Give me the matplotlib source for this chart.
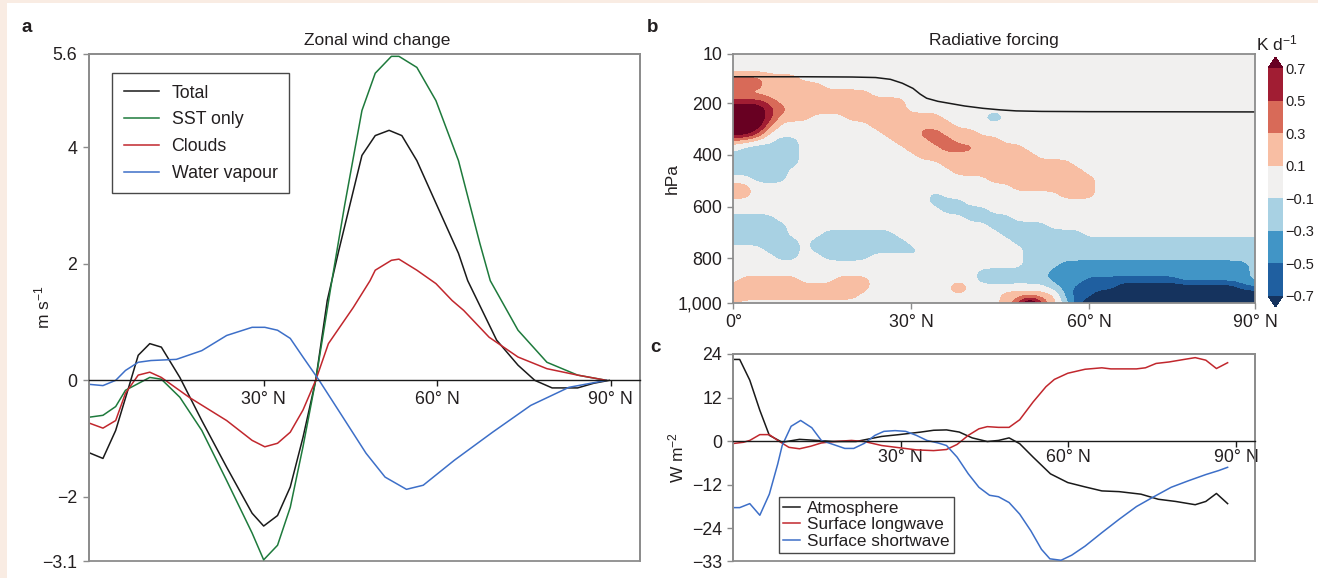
import numpy as np
import matplotlib
matplotlib.use("Agg")
import matplotlib.pyplot as plt
from matplotlib import font_manager
from matplotlib.colors import ListedColormap, BoundaryNorm
from matplotlib.patches import Rectangle

installed = {f.name for f in font_manager.fontManager.ttflist}
base_font = "Liberation Sans Narrow" if "Liberation Sans Narrow" in installed else "Liberation Sans"
plt.rcParams["font.family"] = [base_font, "DejaVu Sans"]
plt.rcParams["font.size"] = 12
plt.rcParams["mathtext.default"] = "regular"
plt.rcParams["text.color"] = "#231f20"
plt.rcParams["axes.labelcolor"] = "#231f20"

W, H = 1318, 578
MINUS = "\u2212"

# ---- panel a: zonal wind change (m s-1) ----
total_lat = [0, 2.2, 4.4, 6.5, 8.3, 10.3, 12.3, 15.5, 19.3, 23.6, 28, 30, 32.4, 34.6, 36.8, 39, 41, 43,
             47, 49.3, 51.7, 53.9, 56.5, 59.8, 63.7, 65.3, 70.3, 74, 76.9, 79.9, 84.3, 87.1, 89.8]
total_val = [-1.25, -1.34, -0.86, -0.17, 0.43, 0.63, 0.57, 0.05, -0.69, -1.49, -2.28, -2.5, -2.32, -1.83,
             -0.98, 0.0, 1.37, 2.23, 3.86, 4.2, 4.29, 4.2, 3.77, 3.04, 2.18, 1.71, 0.69, 0.26, 0.0, -0.13,
             -0.13, -0.05, 0.0]

sst_lat = [0, 2.2, 4.4, 6.1, 10.3, 12.3, 15.5, 19.3, 23.6, 28, 30, 32.4, 34.6, 36.8, 39, 41.8, 44, 47,
           49.3, 52.1, 53.4, 56.5, 59.8, 63.7, 67.4, 69.2, 74, 79, 84.3, 89.3]
sst_val = [-0.63, -0.6, -0.45, -0.17, 0.05, 0.02, -0.29, -0.86, -1.72, -2.62, -3.08, -2.83, -2.18, -1.14,
           0.0, 1.71, 3.0, 4.63, 5.27, 5.56, 5.56, 5.37, 4.8, 3.77, 2.35, 1.71, 0.86, 0.31, 0.09, 0.0]

cloud_lat = [0, 2.2, 4.4, 6.1, 8.3, 10.3, 12.3, 17.1, 23.6, 28, 30.2, 32.4, 34.6, 36.8, 39, 41.2, 45.5,
             48.4, 49.3, 52.1, 53.4, 56.5, 59.8, 62.6, 64.6, 69, 74, 79, 84.3, 89.3]
cloud_val = [-0.74, -0.82, -0.69, -0.22, 0.09, 0.14, 0.05, -0.29, -0.69, -1.03, -1.14, -1.08, -0.89,
             -0.51, 0.0, 0.63, 1.25, 1.71, 1.89, 2.06, 2.08, 1.89, 1.66, 1.37, 1.2, 0.74, 0.4, 0.2, 0.09, 0.0]

wv_lat = [0, 2.2, 4.4, 6.1, 8.3, 10.5, 14.9, 19.3, 23.6, 28, 30.2, 32.4, 34.6, 36.8, 39.6, 43.3, 47.7,
          51, 54.7, 57.6, 63, 69.6, 76.2, 82.8, 89.3]
wv_val = [-0.07, -0.09, 0.0, 0.17, 0.31, 0.34, 0.36, 0.51, 0.77, 0.91, 0.91, 0.86, 0.72, 0.4, 0.0, -0.57,
          -1.25, -1.66, -1.87, -1.8, -1.37, -0.89, -0.43, -0.12, 0.0]

# ---- panel b: radiative forcing (K d-1), lat x pressure ----
rf_lat = np.arange(0, 89, 2)
rf_p = [14, 44, 74, 104, 134, 164, 194, 224, 254, 284, 314, 344, 374, 404, 434, 464, 494,
        524, 554, 584, 614, 644, 674, 704, 734, 764, 794, 824, 854, 884, 914, 944, 974]
# one character per grid cell, read off the shaded classes
# (c / t mark isolated single-cell spots)
rf_code = {".": 0.0, "s": 0.2, "m": 0.4, "d": 0.6, "X": 0.95, "Y": 1.4, "t": 0.4,
           "b": -0.22, "c": -0.42, "B": -0.4, "n": -0.6, "N": -0.95}
rf_rows = [
    "..... ..... ..... ..... ..... ..... ..... ..... .....",
    "..... ..... ..... ..... ..... ..... ..... ..... .....",
    "..... ..... ..... ..... ..... ..... ..... ..... .....",
    "mmmss s.... ..... ..... ..... ..... ..... ..... .....",
    "mmmss sss.. ..... ..... ..... ..... ..... ..... .....",
    "sssss sssss ss... ..... ..... ..... ..... ..... .....",
    "dddms sssss sssss ..... ..... ..... ..... ..... .....",
    "XXXdm sssss sssss ..... ..... ..... ..... ..... .....",
    "XXXds ss... sssss sss.. ..c.. ..... ..... ..... .....",
    "XXXm. ..... ..sss ssss. ..... ..... ..... ..... .....",
    "XXd.. ..... ...ss smmss s.... ..... ..... ..... .....",
    "ss..b b.... ....s ssmms sss.. ..... ..... ..... .....",
    ".bbbb b.... ..... sssmm mssss ..... ..... ..... .....",
    "bbbbb b.... ..... .ssss sssss s.... ..... ..... .....",
    "bbbbb b.... ..... ...ss sssss ssss. ..... ..... .....",
    "bbbbb ..... ..... ....s sssss sssss ..... ..... .....",
    "..bbb ..... ..... ..... ..sss sssss s.... ..... .....",
    "ss... ..... ..... ..... ....s sssss s.... ..... .....",
    "ss... ..... ..... ..b.. ..... ...ss s.... ..... .....",
    "..... ..... ..... ..bbb ..... ..... ..... ..... .....",
    "..... ..... ..... ...bb bb... ..... ..... ..... .....",
    "bbbb. ..... ..... ..... bbbb. ..... ..... ..... .....",
    "bbbbb ..... ..... ..... ..bbb bb... ..... ..... .....",
    "bbbbb ...bb bbbb. ..... ...bb bbbbb ..... ..... .....",
    "bbbbb b.bbb bbbbb ..... ....b bbbbb bbbbb bbbbb bbbbb",
    "...bb b.bbb bbbbb b.... ..... bbbbb bbbbb bbbbb bbbbb",
    "....b b..bb bb... .b... ..... bbbbb bbbbb bbbbb bbbbb",
    "..... ..... ..... ..... ..... bbbBB BBBBB BBBBB BBBBb",
    "..... ..... ..... ..... .bbbb bbBBB BBBBB BBBBB BBBBb",
    ".ssss s...s ss... ..... .bbbb bbBBB nnnnn nnnBB BBBBb",
    "sssss sssss ss... ....t ..... ..bBn nnnNN NNNNN NNNnn",
    "mssss sssss s.... ..... ...ss sssBn nNNNN NNNNN NNNNN",
    "..... ..... ..... ..... ...sm Ymsbn NNNNN NNNNN NNNNN",
]
rf_levels = [-0.7, -0.5, -0.3, -0.1, 0.1, 0.3, 0.5, 0.7]
rf_colors = ["#1f5fa0", "#4195c6", "#a8d1e3", "#f1f0ef", "#f8bea3", "#d86a58", "#a11d33"]
rf_under, rf_over = "#15335e", "#680022"

tropo_lat = [0, 12, 20, 24, 26.5, 28.5, 30.3, 31.5, 32.6, 34.5, 36.5, 39, 42.1, 45, 47.7, 52, 60, 88]
tropo_p = [98, 98, 99, 101, 108, 123, 143, 165, 181, 193, 201, 211, 220, 226, 230, 232, 233, 234]

# ---- panel c: surface / atmosphere fluxes (W m-2) ----
atm_lat = [0.3, 1.2, 3, 4.8, 6.5, 8.8, 11.9, 15, 18.1, 22, 24.3, 26.6, 29.7, 33.6, 35.9, 38.2, 40.5,
           42.8, 45.5, 47.5, 49.4, 51.3, 53.7, 56.8, 59.9, 63, 66, 69.1, 73, 76.1, 79.2, 82.7, 84.6,
           86.5, 88.5]
atm_val = [22.5, 22.5, 16.8, 8.5, 1.6, -0.3, 0.5, 0.2, -0.1, -0.1, 0.6, 1.3, 1.8, 2.5, 3.0, 3.1, 2.5,
           0.9, -0.1, 0.2, 0.9, -0.7, -4.4, -9.0, -11.4, -12.6, -13.7, -13.9, -14.6, -16.0, -16.6,
           -17.5, -16.6, -14.4, -17.2]

lw_lat = [0.3, 1.9, 3, 4.8, 6.5, 8, 10, 11.9, 13.9, 15.8, 18.1, 21.2, 23.5, 26.6, 29.7, 32.8, 35.9,
          38.2, 40.1, 42.1, 44, 45.5, 47.5, 49.4, 51.3, 53.7, 56, 57.5, 59.9, 63, 66, 67.6, 72.2, 73.8,
          75.7, 78, 80.7, 82.7, 84.6, 86.5, 88.5]
lw_val = [-0.6, -0.3, 0.2, 1.8, 1.8, 0.2, -1.7, -2.1, -1.4, -0.5, -0.1, 0.2, -0.1, -1.2, -1.8, -2.4,
          -2.6, -2.3, -0.9, 1.6, 3.4, 4.0, 3.8, 3.8, 5.9, 10.8, 15.0, 17.0, 18.7, 19.8, 20.2, 19.9,
          19.9, 20.2, 21.4, 21.8, 22.5, 23.0, 22.3, 20.0, 21.6]

sw_lat = [0.3, 1.2, 3, 4.8, 6.5, 8, 8.8, 10.4, 12.1, 14.1, 15.8, 18.1, 20, 21.6, 23.5, 25.4, 27, 29,
          30.9, 32.8, 34.7, 36.7, 38.2, 40.1, 42.1, 44, 45.9, 47.5, 49.4, 51.3, 53.3, 55.2, 56.7, 58.7,
          60.6, 63, 66, 69.1, 72.2, 75.3, 78.4, 81.5, 84.6, 86.9, 88.5]
sw_val = [-18.3, -18.3, -17.2, -20.4, -14.6, -6.3, -1.2, 4.1, 5.7, 3.7, 0.2, -1.0, -2.0, -2.0, -0.6,
          1.6, 2.7, 2.9, 2.7, 1.6, 0.2, -0.5, -1.2, -4.4, -9.0, -12.7, -14.9, -15.3, -16.9, -20.1,
          -24.7, -29.8, -32.4, -32.8, -31.4, -28.9, -25.2, -21.5, -18.0, -15.3, -12.7, -10.9, -9.2,
          -8.1, -7.2]

FRAME = "#8c8c8c"
BLACK = "#1a1a1a"
GREEN = "#1e7a3c"
RED = "#c1272d"
BLUE = "#3d6fc8"
TICK_FS = 12.8


def frac(x0, y0, x1, y1):
    # pixel box (top-left origin) -> figure fraction rect
    return [x0 / W, 1 - y1 / H, (x1 - x0) / W, (y1 - y0) / H]


def style_frame(ax):
    for s in ax.spines.values():
        s.set_color(FRAME)
        s.set_linewidth(1.3)
    ax.tick_params(colors=FRAME, labelcolor="#231f20", length=4.5, width=1.0, labelsize=TICK_FS)


def smooth(a, sig, axis):
    # gaussian blur along one axis, edges held
    x = np.arange(-3 * sig, 3 * sig + 1)
    k = np.exp(-0.5 * (x / sig) ** 2)
    k /= k.sum()
    pad = len(x) // 2
    widths = [(pad, pad) if i == axis else (0, 0) for i in range(2)]
    ap = np.pad(a, widths, mode="edge")
    return np.apply_along_axis(lambda v: np.convolve(v, k, mode="valid"), axis, ap)


fig = plt.figure(figsize=(W / 100, H / 100), dpi=100)
fig.patch.set_facecolor("#f9ece3")
fig.add_artist(Rectangle((7 / W, 0), 1, 1 - 3 / H, transform=fig.transFigure,
                         facecolor="white", edgecolor="none", zorder=-10))

# ======== panel a ========
ax = fig.add_axes(frac(88.5, 54, 640, 561))
ax.plot(total_lat, total_val, color=BLACK, lw=1.1, label="Total")
ax.plot(sst_lat, sst_val, color=GREEN, lw=1.1, label="SST only")
ax.plot(cloud_lat, cloud_val, color=RED, lw=1.1, label="Clouds")
ax.plot(wv_lat, wv_val, color=BLUE, lw=1.1, label="Water vapour")
ax.set_xlim(-0.3, 95.1)
ax.set_ylim(-3.1, 5.6)
style_frame(ax)
ax.patch.set_edgecolor(FRAME)
ax.patch.set_linewidth(1.3)
ax.spines["bottom"].set_position(("data", 0))
ax.spines["bottom"].set_color(BLACK)
ax.spines["bottom"].set_linewidth(1.0)
ax.set_xticks([30, 60, 90])
ax.set_xticklabels(["30\u00b0 N", "60\u00b0 N", "90\u00b0 N"])
ax.tick_params(axis="x", colors=BLACK, labelcolor="#231f20", pad=3)
ax.set_yticks([-3.1, -2, 0, 2, 4, 5.6])
ax.set_yticklabels([MINUS + "3.1", MINUS + "2", "0", "2", "4", "5.6"])
ax.set_ylabel("m s$^{-1}$", fontsize=12.5, va="center")
ax.yaxis.set_label_coords(-0.084, 0.5)
ax.text(0.524, 1.0276, "Zonal wind change", transform=ax.transAxes, ha="center", va="center",
        fontsize=12.5)
leg = ax.legend(loc="upper left", bbox_to_anchor=(0.0426, 0.9625), borderaxespad=0, fontsize=12.8,
                frameon=True, fancybox=False, edgecolor=BLACK, handlelength=2.0, handletextpad=0.7,
                labelspacing=0.55, borderpad=0.65)
leg.get_frame().set_linewidth(1.0)

# ======== panel b ========
axb = fig.add_axes(frac(733.4, 54, 1255, 303.3))
Z = np.array([[rf_code[c] for c in row.replace(" ", "")] for row in rf_rows])
# render the read class grid on a finer mesh and soften the cell edges
fine_lat = np.arange(0, 88.01, 0.5)
fine_p = np.arange(14, 974.1, 7.5)
Zl = np.array([np.interp(fine_lat, rf_lat, row) for row in Z])
Zf = np.array([np.interp(fine_p, rf_p, col) for col in Zl.T]).T
Zf = smooth(smooth(Zf, 2, 0), 2, 1)

cmap = ListedColormap(rf_colors)
cmap.set_under(rf_under)
cmap.set_over(rf_over)
norm = BoundaryNorm(rf_levels, cmap.N)
axb.set_facecolor(rf_colors[3])
cs = axb.contourf(fine_lat, fine_p, Zf, levels=rf_levels, cmap=cmap, norm=norm, extend="both")
axb.plot(tropo_lat, tropo_p, color=BLACK, lw=1.1)
axb.set_xlim(0, 88)
axb.set_ylim(974, 10)
style_frame(axb)
axb.set_xticks([0, 30, 60, 88])
axb.set_xticklabels(["0\u00b0", "30\u00b0 N", "60\u00b0 N", "90\u00b0 N"])
axb.set_yticks([10, 200, 400, 600, 800, 974])
axb.set_yticklabels(["10", "200", "400", "600", "800", "1,000"])
axb.set_ylabel("hPa", fontsize=12.5, va="center")
axb.yaxis.set_label_coords(-0.118, 0.5)
axb.text(0.5, 1.056, "Radiative forcing", transform=axb.transAxes, ha="center", va="center",
         fontsize=12.5)

cax = fig.add_axes(frac(1268, 57, 1283, 307))
cb = fig.colorbar(cs, cax=cax, ticks=rf_levels)
cb.outline.set_visible(False)
cb.ax.set_yticklabels(["\u22120.7", "\u22120.5", "\u22120.3", "\u22120.1", "0.1", "0.3", "0.5", "0.7"])
cb.ax.tick_params(length=0, pad=1.5, labelsize=10.5, labelcolor="#231f20")
fig.text(1277 / W, 1 - 43 / H, "K d$^{-1}$", ha="center", va="center", fontsize=12.5)

# ======== panel c ========
axc = fig.add_axes(frac(733, 354, 1255, 561))
axc.plot(atm_lat, atm_val, color=BLACK, lw=1.1, label="Atmosphere")
axc.plot(lw_lat, lw_val, color=RED, lw=1.1, label="Surface longwave")
axc.plot(sw_lat, sw_val, color=BLUE, lw=1.1, label="Surface shortwave")
axc.set_xlim(0, 93.4)
axc.set_ylim(-33, 24)
style_frame(axc)
axc.patch.set_edgecolor(FRAME)
axc.patch.set_linewidth(1.3)
axc.spines["bottom"].set_position(("data", 0))
axc.spines["bottom"].set_color(BLACK)
axc.spines["bottom"].set_linewidth(1.0)
axc.set_xticks([30, 60, 90])
axc.set_xticklabels(["30\u00b0 N", "60\u00b0 N", "90\u00b0 N"])
axc.tick_params(axis="x", colors=BLACK, labelcolor="#231f20", pad=1.5)
axc.set_yticks([-33, -24, -12, 0, 12, 24])
axc.set_yticklabels([MINUS + "33", MINUS + "24", MINUS + "12", "0", "12", "24"])
axc.set_ylabel("W m$^{-2}$", fontsize=12.5, va="center")
axc.yaxis.set_label_coords(-0.108, 0.5)
legc = axc.legend(loc="lower left", bbox_to_anchor=(0.088, 0.0386), borderaxespad=0, fontsize=12.3,
                  frameon=True, fancybox=False, edgecolor=BLACK, handlelength=1.0, handletextpad=0.4,
                  labelspacing=0.08, borderpad=0.25)
legc.get_frame().set_linewidth(1.0)

# panel letters
for x, y, s in [(27, 27, "a"), (653, 27, "b"), (655, 347, "c")]:
    fig.text(x / W, 1 - y / H, s, ha="center", va="center", fontsize=13.5, fontweight="bold")

fig.savefig("out.png", dpi=100, facecolor=fig.get_facecolor())
